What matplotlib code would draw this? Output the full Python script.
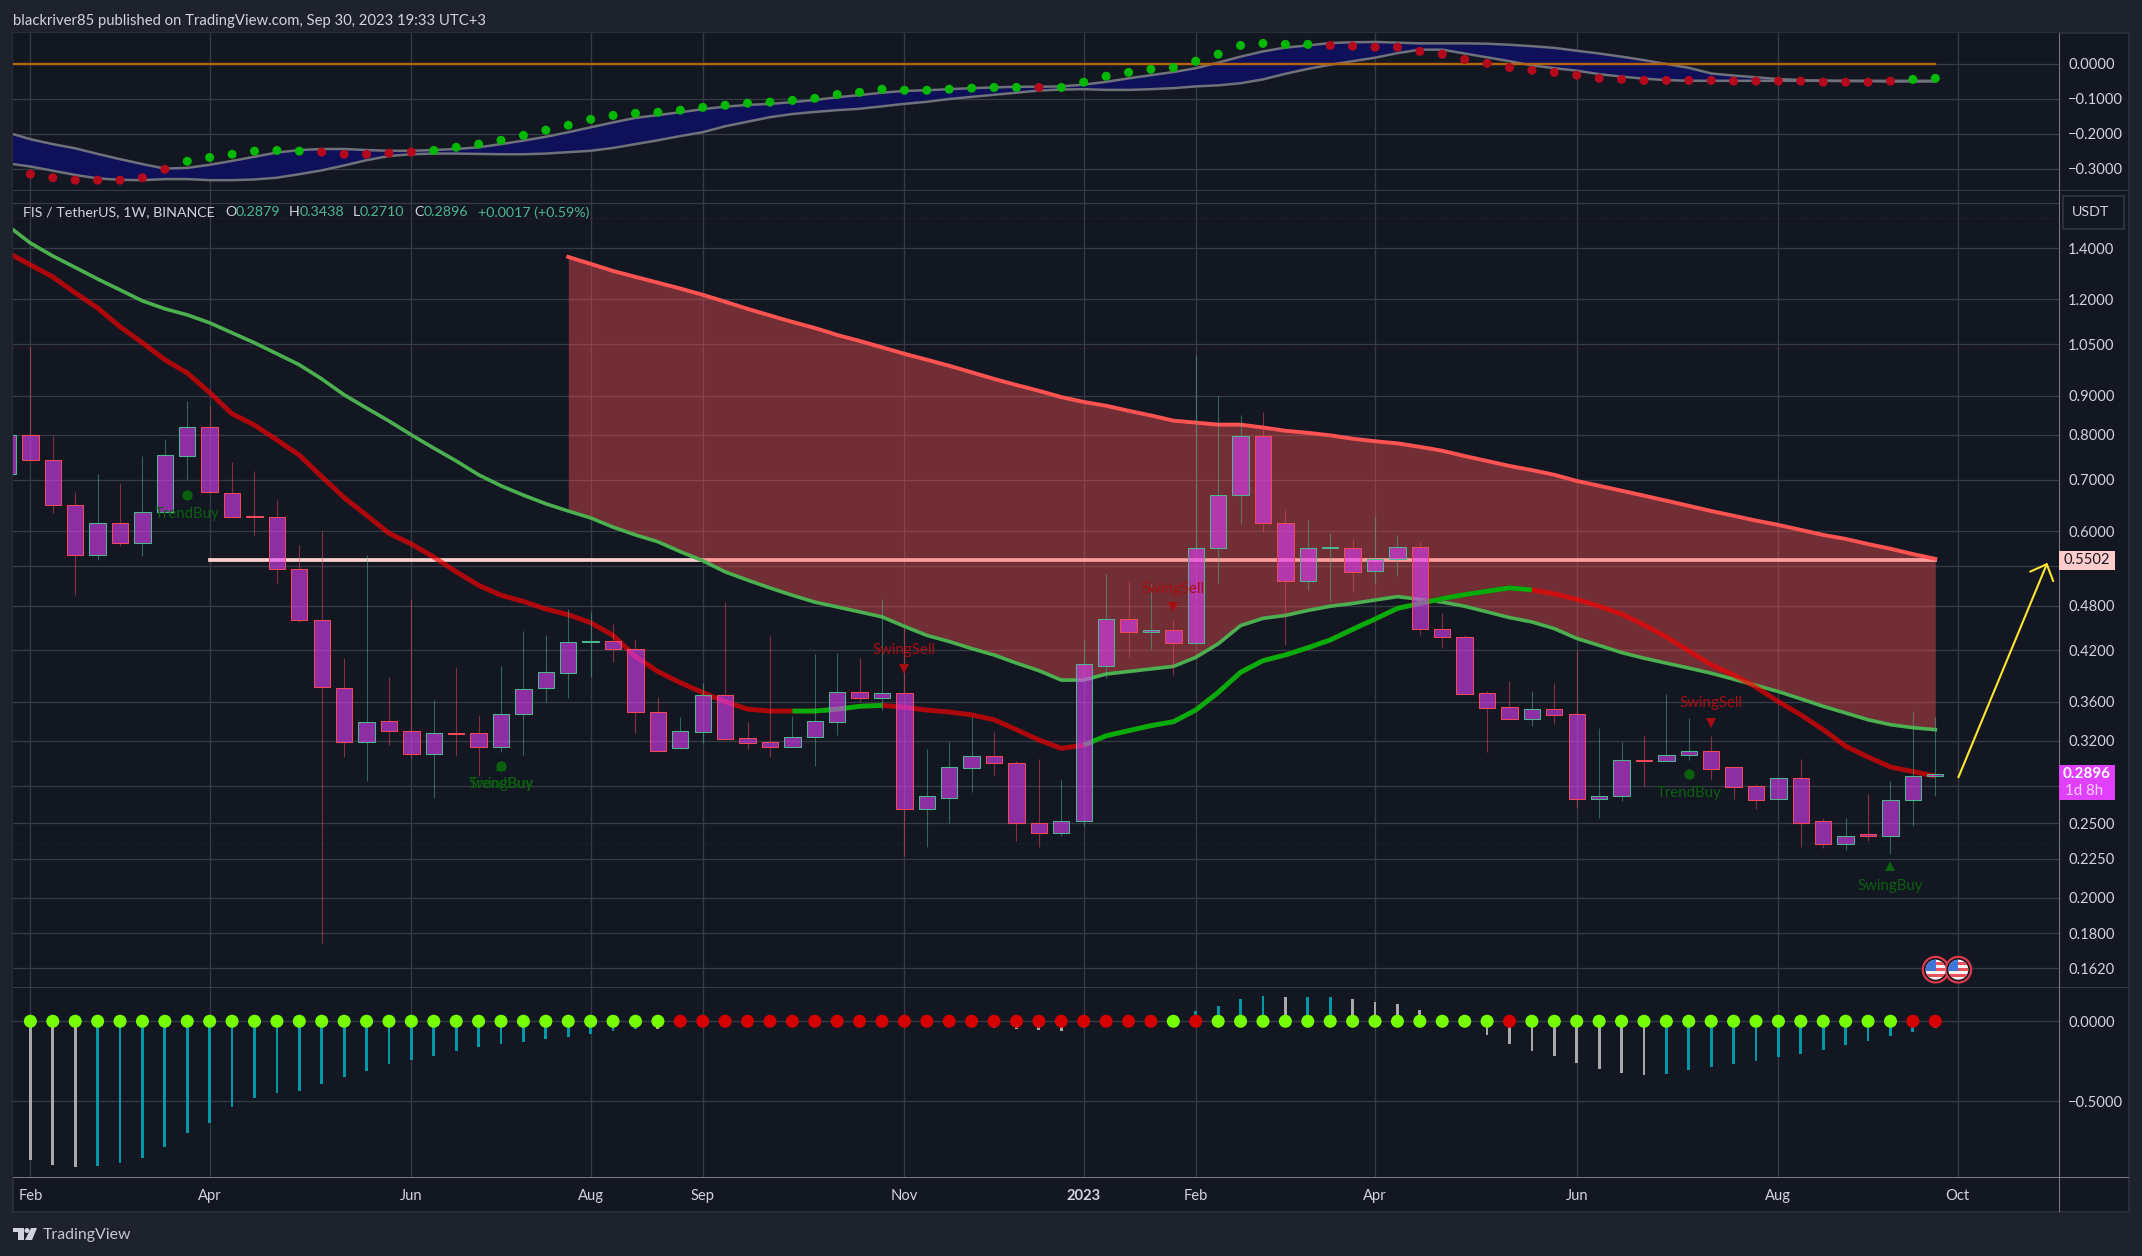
#!/usr/bin/env python3

# FIS / TetherUS weekly chart, TradingView dark style

import matplotlib
matplotlib.use('Agg')
import matplotlib.pyplot as plt
import numpy as np
from matplotlib.patches import Circle, Polygon, Rectangle
from matplotlib.ticker import FixedFormatter, FixedLocator, NullLocator
from matplotlib.transforms import IdentityTransform

plt.rcParams['font.family'] = ['Lato', 'DejaVu Sans']

W, H = 2142, 1256

# weekly candles, first one is index -1
candle_open = [.712, .80, .742, .648, .559, .614, .578, .636, .75, .819, .673, .627, .625, .536, .46, .375,
               .319, .34, .33, .308, .328, .328, .314, .347, .375, .392, .43, .432, .422, .349, .313, .329,
               .367, .323, .319, .314, .324, .339, .371, .364, .369, .261, .27, .295, .306, .3, .25, .243,
               .252, .401, .461, .444, .446, .429, .57, .668, .797, .615, .517, .57, .57, .533, .551, .572,
               .448, .437, .369, .354, .342, .352, .347, .269, .271, .302, .301, .307, .311, .296, .28, .269,
               .286, .252, .235, .242, .241, .268, .2879]
candle_high = [.84, 1.04, .797, .674, .711, .692, .752, .79, .886, .873, .737, .719, .659, .575, .6, .41,
               .558, .387, .489, .362, .399, .346, .4, .445, .44, .475, .471, .454, .434, .365, .344, .381,
               .485, .339, .438, .345, .415, .416, .41, .49, .449, .312, .319, .344, .329, .301, .303, .285,
               .433, .528, .516, .512, .46, 1.017, .9, .849, .857, .639, .62, .596, .585, .625, .592, .582,
               .47, .44, .372, .383, .372, .381, .42, .333, .319, .326, .368, .343, .325, .297, .281, .286,
               .303, .254, .254, .273, .284, .35, .3438]
candle_low = [.70, .742, .634, .495, .55, .574, .557, .636, .70, .674, .626, .592, .512, .457, .175, .305,
              .284, .316, .304, .27, .306, .288, .31, .307, .36, .364, .388, .405, .328, .311, .312, .318,
              .321, .312, .305, .314, .297, .326, .36, .351, .227, .233, .25, .275, .288, .237, .233, .241,
              .248, .386, .412, .422, .39, .429, .514, .613, .6, .426, .503, .487, .5, .513, .524, .44,
              .423, .368, .31, .342, .335, .337, .262, .254, .267, .279, .301, .302, .285, .269, .261, .269,
              .233, .232, .231, .237, .228, .248, .271]
candle_close = [.80, .742, .648, .559, .614, .578, .636, .754, .819, .674, .626, .625, .536, .46, .376, .319,
                .339, .33, .308, .328, .327, .314, .347, .374, .393, .43, .432, .422, .349, .311, .33, .367,
                .322, .318, .314, .324, .34, .37, .364, .369, .261, .271, .296, .306, .3, .25, .243, .252,
                .403, .461, .444, .446, .429, .57, .668, .797, .615, .517, .57, .572, .531, .551, .572, .448,
                .437, .368, .353, .342, .352, .346, .269, .271, .302, .301, .307, .311, .294, .279, .268, .286,
                .25, .235, .241, .241, .268, .288, .2896]

# moving averages on the price pane, index -1 to 85
ma_light = [1.496, 1.421, 1.367, 1.321, 1.276, 1.235, 1.195, 1.167, 1.146, 1.119, 1.086, 1.054, 1.02, .987, .946,
            .902, .867, .834, .8, .769, .74, .71, .687, .668, .651, .637, .624, .607, .593, .581, .564, .549,
            .531, .518, .506, .495, .485, .478, .471, .464, .451, .439, .431, .422, .414, .404, .395, .384,
            .384, .391, .394, .397, .4, .411, .428, .452, .462, .466, .473, .479, .483, .488, .493, .489, .485,
            .479, .471, .463, .457, .448, .435, .426, .417, .41, .404, .398, .392, .385, .378, .371, .363,
            .355, .348, .341, .336, .333, .331]
ma_thick = [1.38, 1.331, 1.284, 1.224, 1.17, 1.106, 1.054, 1.002, .963, .908, .852, .824, .788, .753, .706, .663,
            .629, .596, .577, .555, .531, .51, .495, .486, .475, .467, .456, .439, .412, .394, .381, .37, .36,
            .352, .35, .35, .35, .352, .355, .356, .354, .351, .349, .346, .341, .331, .321, .313, .316, .325,
            .33, .335, .339, .351, .37, .393, .407, .414, .423, .433, .447, .461, .476, .483, .49, .496, .501,
            .506, .503, .497, .489, .479, .468, .453, .437, .419, .402, .39, .376, .36, .346, .331, .315, .305,
            .296, .292, .288]
# long average that bounds the red zone, index 24 to 85
ma_long = [1.363, 1.335, 1.307, 1.284, 1.262, 1.24, 1.217, 1.192, 1.167, 1.144, 1.122, 1.102, 1.079, 1.06, 1.04,
           1.02, 1.002, .984, .965, .946, .929, .913, .896, .883, .873, .86, .848, .835, .83, .825, .825, .818,
           .81, .805, .799, .791, .785, .78, .772, .763, .751, .74, .729, .72, .71, .697, .687, .677, .667, .657,
           .647, .637, .628, .619, .611, .602, .593, .586, .577, .569, .56, .552]
ma_thick_green = [(34, 38), (47, 67)]

target_price = .5502
last_price = .2896

# signals on the price pane: label, index, text price, marker price, marker
signals = [('TrendBuy', 7, .632, .668, 'o', 'buy'),
           ('TrendBuy', 21, .281, .297, 'o', 'buy'),
           ('SwingBuy', 21, .281, .297, '^', 'buy'),
           ('SwingSell', 39, .42, .397, 'v', 'sell'),
           ('SwingSell', 51, .504, .478, 'v', 'sell'),
           ('SwingSell', 75, .358, .338, 'v', 'sell'),
           ('TrendBuy', 74, .274, .29, 'o', 'buy'),
           ('SwingBuy', 83, .207, .22, '^', 'buy')]

# top oscillator, index -1 to 85
osc_upper = [-.196, -.215, -.229, -.241, -.257, -.272, -.286, -.299, -.297, -.288, -.277, -.265, -.253, -.246,
             -.243, -.243, -.246, -.248, -.248, -.246, -.243, -.238, -.229, -.219, -.208, -.195, -.181, -.167,
             -.154, -.146, -.138, -.129, -.122, -.117, -.114, -.109, -.103, -.095, -.089, -.082, -.077, -.075,
             -.072, -.069, -.067, -.065, -.065, -.064, -.059, -.051, -.041, -.032, -.023, -.012, .004, .021,
             .036, .047, .053, .06, .062, .063, .061, .059, .059, .059, .058, .055, .051, .046, .038, .03, .021,
             .011, 0, -.011, -.027, -.033, -.038, -.043, -.046, -.048, -.048, -.048, -.048, -.048, -.048]
osc_lower = [-.284, -.293, -.305, -.317, -.327, -.331, -.332, -.329, -.329, -.332, -.332, -.33, -.325, -.315,
             -.304, -.29, -.275, -.263, -.258, -.256, -.256, -.257, -.258, -.258, -.256, -.252, -.248, -.24,
             -.229, -.218, -.206, -.195, -.178, -.165, -.152, -.143, -.137, -.132, -.128, -.121, -.114, -.108,
             -.1, -.094, -.088, -.082, -.076, -.073, -.072, -.074, -.074, -.072, -.069, -.064, -.061, -.055,
             -.044, -.028, -.014, -.002, .008, .018, .031, .041, .041, .03, .019, .008, -.004, -.012, -.019,
             -.029, -.036, -.042, -.046, -.048, -.048, -.048, -.048, -.048, -.048, -.048, -.049, -.049, -.05,
             -.05, -.05]
# index 0 to 85
osc_dots = [-.315, -.325, -.332, -.332, -.332, -.325, -.301, -.278, -.267, -.258, -.249, -.247, -.249, -.252,
            -.258, -.258, -.255, -.252, -.247, -.238, -.229, -.218, -.204, -.189, -.175, -.158, -.147, -.141,
            -.138, -.132, -.124, -.118, -.112, -.109, -.104, -.098, -.087, -.081, -.072, -.075, -.075, -.072,
            -.069, -.067, -.067, -.067, -.067, -.052, -.035, -.024, -.015, -.01, .008, .028, .053, .059, .056,
            .056, .053, .051, .048, .048, .036, .028, .013, .002, -.01, -.018, -.024, -.032, -.041, -.044, -.047,
            -.047, -.047, -.047, -.049, -.049, -.049, -.049, -.052, -.052, -.052, -.049, -.044, -.041]
osc_dot_state = 'r' * 7 + 'g' * 6 + 'r' * 5 + 'g' * 27 + 'r' + 'g' * 12 + 'r' * 26 + 'g' * 2

# bottom histogram, index 0 to 85
hist_values = [-.867, -.898, -.911, -.905, -.886, -.854, -.786, -.698, -.636, -.536, -.479, -.448, -.436, -.392,
               -.348, -.311, -.267, -.242, -.217, -.186, -.161, -.142, -.129, -.111, -.098, -.079, -.061, -.048,
               -.048, -.034, -.01, -.01, -.01, -.01, -.01, -.01, -.01, -.01, -.01, -.01, -.01, -.036, -.036,
               -.042, -.048, -.054, -.061, -.042, -.01, -.01, -.01, -.01, .064, .096, .139, .158, .152, .152,
               .152, .139, .121, .108, .071, .03, -.02, -.086, -.142, -.186, -.217, -.261, -.298, -.323, -.336,
               -.329, -.304, -.286, -.267, -.248, -.223, -.204, -.18, -.148, -.123, -.092, -.067, -.042]
hist_state = 's' * 3 + 't' * 25 + 's' + 'r' * 14 + 's' * 4 + 't' * 9 + 's' + 't' * 2 + 's' * 14 + 't' * 12 + 's'
hist_dot_state = 'g' * 29 + 'r' * 22 + 'g' + 'r' + 'g' * 13 + 'r' + 'g' * 17 + 'r' * 2

month_ticks = [0, 8, 17, 25, 30, 39, 47, 52, 60, 69, 78, 86]
month_labels = ['Feb', 'Apr', 'Jun', 'Aug', 'Sep', 'Nov', '2023', 'Feb', 'Apr', 'Jun', 'Aug', 'Oct']

price_ticks = [1.6, 1.4, 1.2, 1.05, .9, .8, .7, .6, .54, .48, .42, .36, .32, .28, .25, .225, .2, .18, .162]
price_labels = ['', '1.4000', '1.2000', '1.0500', '0.9000', '0.8000', '0.7000', '0.6000', '', '0.4800', '0.4200',
                '0.3600', '0.3200', '', '0.2500', '0.2250', '0.2000', '0.1800', '0.1620']
osc_ticks = [0, -.1, -.2, -.3]
osc_labels = ['0.0000', '\u22120.1000', '\u22120.2000', '\u22120.3000']
hist_ticks = [0, -.5]
hist_labels = ['0.0000', '\u22120.5000']

BG = '#131722'
FRAME = '#1e222d'
GRID = '#363a45'
AXIS = '#787b86'
TEXT = '#d1d4dc'
UP = '#4db68f'
DOWN = '#f2495a'
BODY = (224 / 255, 64 / 255, 251 / 255, .6)

FRAME_L, FRAME_R, FRAME_T, FRAME_B = 13, 2129, 33, 1212
PLOT_R, PANE_1, PANE_2, PLOT_B = 2059, 190.3, 987, 1177


def pane(fig, top, bottom):
    ax = fig.add_axes([FRAME_L / W, 1 - bottom / H, (PLOT_R - FRAME_L) / W, (bottom - top) / H])
    ax.set_facecolor(BG)
    for spine in ax.spines.values():
        spine.set_visible(False)
    ax.set_xlim(-.776, 90.52)
    ax.xaxis.set_major_locator(FixedLocator(month_ticks))
    ax.grid(True, color=GRID, lw=.95, zorder=0)
    ax.set_axisbelow(True)
    ax.yaxis.tick_right()
    ax.tick_params(axis='both', length=0, colors=TEXT, labelsize=10.6, pad=6.5)
    ax.tick_params(axis='x', labelbottom=False)
    return ax


def fig_rect(fig, x0, y0, x1, y1, **kw):
    fig.add_artist(Rectangle((x0 / W, 1 - y1 / H), (x1 - x0) / W, (y1 - y0) / H,
                             transform=fig.transFigure, **kw))


def fig_text(fig, x, y, s, **kw):
    kw.setdefault('va', 'center')
    kw.setdefault('fontsize', 10.3)
    kw.setdefault('color', TEXT)
    fig.text(x / W, 1 - y / H, s, **kw)


def draw_flag(fig, x, y):
    tr = IdentityTransform()
    yy = H - y
    fig.add_artist(Circle((x, yy), 12.8, transform=tr, facecolor='#131722', edgecolor='#e0394b', lw=1.6, zorder=8))
    disc = Circle((x, yy), 10, transform=tr, facecolor='#f4f4f4', edgecolor='none', zorder=9)
    fig.add_artist(disc)
    for k in (-7, -1, 5):
        band = Rectangle((x - 11, yy + k), 22, 3, transform=tr, facecolor='#e8505b', zorder=10)
        fig.add_artist(band)
        band.set_clip_path(disc)
    canton = Rectangle((x - 11, yy - 1), 11, 12, transform=tr, facecolor='#3f76d8', zorder=11)
    fig.add_artist(canton)
    canton.set_clip_path(disc)


def draw_candles(ax):
    idx = np.arange(-1, 86)
    for i, o, h, l, c in zip(idx, candle_open, candle_high, candle_low, candle_close):
        col = UP if c >= o else DOWN
        top, bot = max(o, c), min(o, c)
        ax.vlines(i, top, h, color=col, alpha=.5, lw=.8, zorder=5)
        ax.vlines(i, l, bot, color=col, alpha=.5, lw=.8, zorder=5)
        ax.bar(i, top - bot, bottom=bot, width=.73, facecolor=BODY, edgecolor=col, lw=.75, zorder=6)


def plot_oscillator(ax):
    idx = np.arange(-1, 86)
    ax.fill_between(idx, osc_upper, osc_lower, color='#0e1159', lw=0, zorder=1)
    ax.plot(idx, osc_upper, color='#6f717b', lw=1.8, zorder=2)
    ax.plot(idx, osc_lower, color='#6f717b', lw=1.8, zorder=2)
    ax.plot([-1, 85], [0, 0], color='#b8620f', lw=1.7, zorder=3)
    cols = ['#06b806' if s == 'g' else '#b50a1c' for s in osc_dot_state]
    ax.scatter(np.arange(86), osc_dots, s=42, c=cols, linewidths=0, zorder=4)
    ax.set_ylim(-.361, .0886)
    ax.yaxis.set_major_locator(FixedLocator(osc_ticks))
    ax.yaxis.set_major_formatter(FixedFormatter(osc_labels))


def plot_price(ax):
    idx = np.arange(-1, 86)
    ax.set_yscale('log')
    ax.set_ylim(.1532, 1.664)
    ax.yaxis.set_major_locator(FixedLocator(price_ticks))
    ax.yaxis.set_major_formatter(FixedFormatter(price_labels))
    ax.yaxis.set_minor_locator(NullLocator())

    for level, col in ((1.532, '#a02733'), (1.038, '#a02733'), (.2358, '#1f5b2e')):
        ax.axhline(level, color=col, lw=.6, ls=(0, (1, 3)), alpha=.6, zorder=1)

    ax.plot([8, 85], [target_price, target_price], color='#ffd0d0', lw=2.7, zorder=2)

    zone_idx = np.arange(24, 86)
    ax.fill_between(zone_idx, ma_long, np.array(ma_light)[zone_idx + 1], color='#ff5252', alpha=.4, lw=0, zorder=3)
    ax.plot(zone_idx, ma_long, color='#ff5252', lw=2.8, zorder=4)
    ax.plot(idx, ma_light, color='#4caf50', lw=2.6, zorder=4)

    ax.plot(idx, ma_thick, color='#ff0000', alpha=.66, lw=3.5, solid_capstyle='butt', zorder=4)
    thick = np.array(ma_thick)
    for start, end in ma_thick_green:
        ax.plot(idx[start + 1:end + 2], thick[start + 1:end + 2], color=BG, lw=3.5, solid_capstyle='butt', zorder=4)
        ax.plot(idx[start + 1:end + 2], thick[start + 1:end + 2], color='#00ed00', alpha=.7, lw=3.5,
                solid_capstyle='butt', zorder=4)

    draw_candles(ax)

    for label, i, text_price, mark_price, mark, side in signals:
        col = '#0b5f0f' if side == 'buy' else '#a80d12'
        ax.text(i, text_price, label, color=col, fontsize=10.8, ha='center', va='center', zorder=7)
        ax.plot([i], [mark_price], marker=mark, ms=7.5, color=col, mew=0, zorder=7)

    ax.annotate('', xy=(90, .5455), xytext=(86.03, .287),
                arrowprops=dict(arrowstyle='->,head_length=.95,head_width=.9', mutation_scale=10,
                                color='#fde431', lw=1.5, shrinkA=0, shrinkB=0), zorder=7)


def plot_histogram(ax):
    cols = {'s': '#a9a9a9', 't': '#0097a7', 'r': '#b71c1c'}
    ax.bar(np.arange(86), hist_values, width=.125, color=[cols[s] for s in hist_state], zorder=2)
    dot_cols = ['#76ff03' if s == 'g' else '#d50000' for s in hist_dot_state]
    ax.scatter(np.arange(86), np.zeros(86), s=88, c=dot_cols, linewidths=0, zorder=3)
    ax.set_ylim(-.973, .214)
    ax.yaxis.set_major_locator(FixedLocator(hist_ticks))
    ax.yaxis.set_major_formatter(FixedFormatter(hist_labels))
    ax.set_xticks(month_ticks)
    ax.set_xticklabels(month_labels)
    ax.tick_params(axis='x', labelbottom=True, pad=8.5)
    ax.get_xticklabels()[6].set_fontweight('bold')


def plot_chrome(fig):
    # frame and pane separators
    fig_rect(fig, FRAME_L, FRAME_T, FRAME_R, FRAME_B, facecolor=BG, edgecolor='#2a2e39', lw=1.4, zorder=-5)
    fig_rect(fig, FRAME_L, PANE_1 - .5, FRAME_R, PANE_1 + .5, facecolor=GRID, zorder=5)
    fig_rect(fig, FRAME_L, PANE_2 - .5, FRAME_R, PANE_2 + .5, facecolor=GRID, zorder=5)
    fig_rect(fig, PLOT_R - .5, FRAME_T, PLOT_R + .5, FRAME_B, facecolor=AXIS, zorder=5)
    fig_rect(fig, FRAME_L, PLOT_B - .5, FRAME_R, PLOT_B + .5, facecolor=AXIS, zorder=5)

    fig_text(fig, 13, 21.5, 'blackriver85 published on TradingView.com, Sep 30, 2023 19:33 UTC+3', fontsize=10.7)

    # legend line of the price pane
    y = 212.5
    fig_text(fig, 23, y, 'FIS / TetherUS, 1W, BINANCE')
    for x, s in ((225.4, 'O'), (289, 'H'), (352.7, 'L'), (414, 'C')):
        fig_text(fig, x, y, s)
    for x, s in ((235.7, '0.2879'), (299.5, '0.3438'), (360, '0.2710'), (423.6, '0.2896'), (477.7, '+0.0017 (+0.59%)')):
        fig_text(fig, x, y, s, color=UP)

    # USDT button
    fig_rect(fig, 2063, 196, 2124, 229, facecolor='none', edgecolor='#2f333e', lw=1.3, zorder=6)
    fig_text(fig, 2090.7, 212, 'USDT', ha='center', zorder=7)

    # price tags
    fig_rect(fig, 2059, 551, 2115, 570, facecolor='#ffcccc', zorder=6)
    fig_text(fig, 2087, 560.5, f'{target_price:.4f}', ha='center', color='#131722', fontsize=10.6, zorder=7)
    fig_rect(fig, 2059, 765, 2115, 800, facecolor='#e040fb', zorder=6)
    fig_text(fig, 2087, 774, f'{last_price:.4f}', ha='center', color='white', fontweight='bold', fontsize=11, zorder=7)
    fig_text(fig, 2084, 791, '1d 8h', ha='center', color='#f8d0fe', fontsize=10.8, zorder=7)

    draw_flag(fig, 1935.6, 969.7)
    draw_flag(fig, 1958.3, 969.7)

    # logo
    col = '#d1d4dc'
    fig_rect(fig, 13, 1228, 24, 1232, facecolor=col, zorder=6)
    fig_rect(fig, 18, 1228, 24, 1240, facecolor=col, zorder=6)
    fig.add_artist(Circle((27, H - 1230.5), 2.5, transform=IdentityTransform(), facecolor=col, zorder=6))
    pts = [(31, 1228), (37, 1228), (32, 1240), (25, 1240)]
    fig.add_artist(Polygon([(x, H - yy) for x, yy in pts], transform=IdentityTransform(), facecolor=col, zorder=6))
    fig_text(fig, 43, 1235.5, 'TradingView', fontsize=11.4, color='#c4c7d0')


def main():
    fig = plt.figure(figsize=(W / 100, H / 100), dpi=100, facecolor=FRAME)
    ax_osc = pane(fig, FRAME_T, PANE_1)
    ax_price = pane(fig, PANE_1, PANE_2)
    ax_hist = pane(fig, PANE_2, PLOT_B)
    plot_oscillator(ax_osc)
    plot_price(ax_price)
    plot_histogram(ax_hist)
    plot_chrome(fig)
    fig.savefig('out.png', dpi=100, facecolor=FRAME)


if __name__ == '__main__':
    main()
